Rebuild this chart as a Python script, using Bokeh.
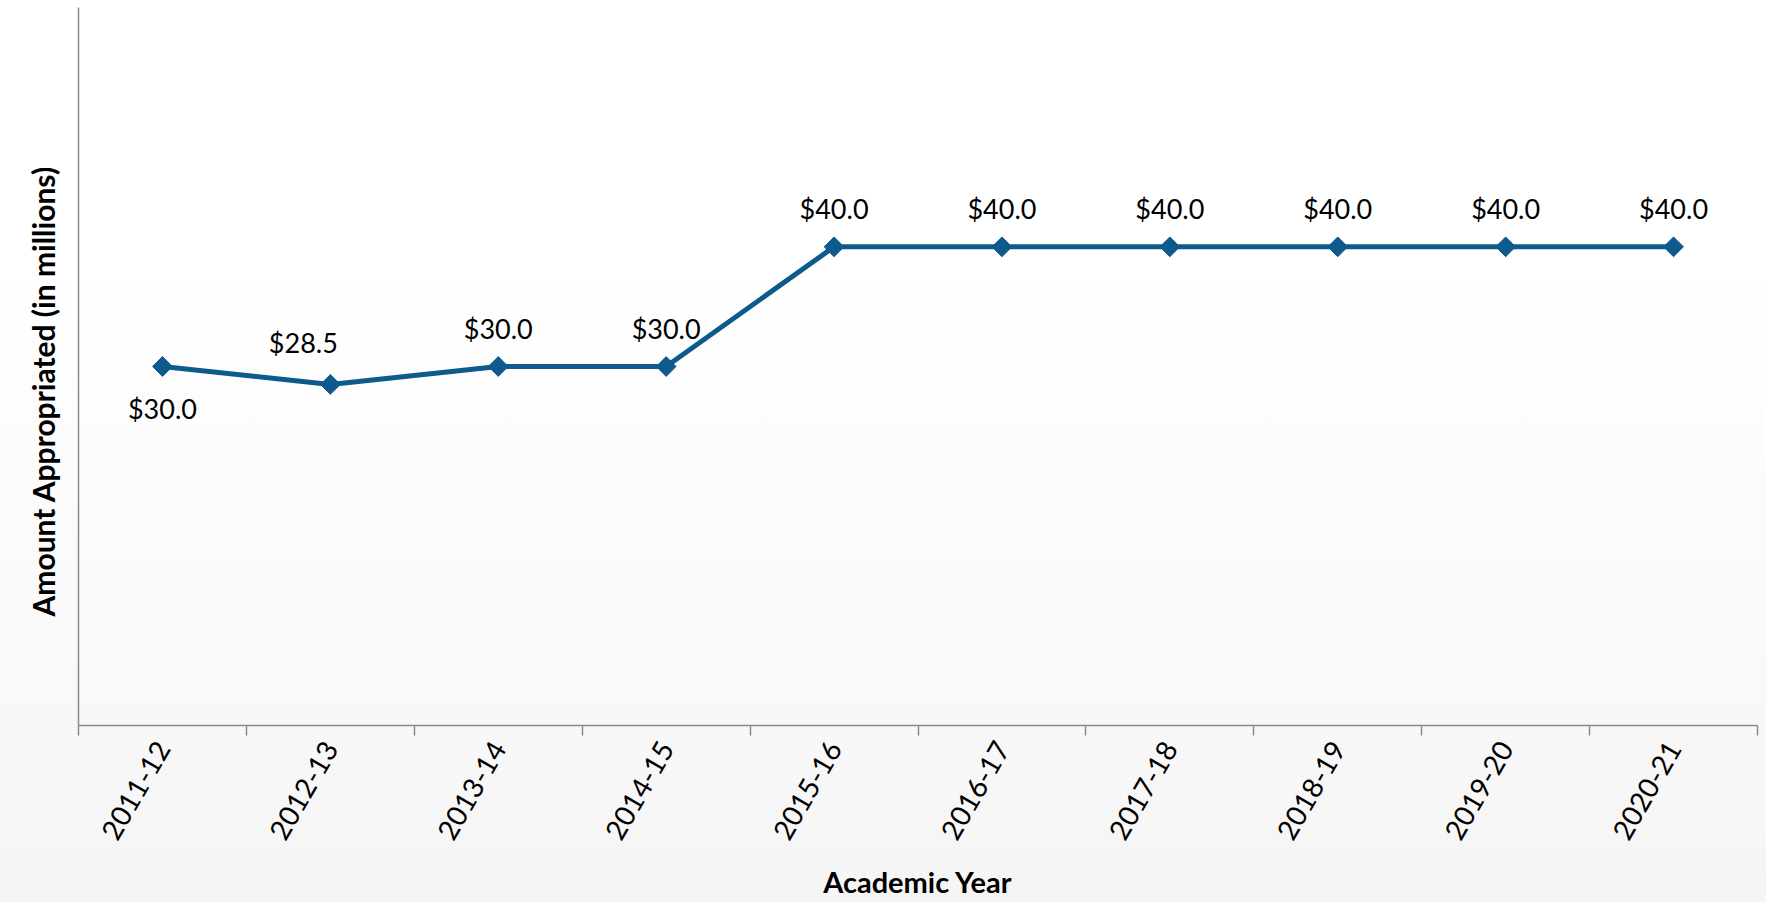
import math
import numpy as np
from bokeh.plotting import figure
from bokeh.models import (ColumnDataSource, LinearAxis, FixedTicker, Range1d, LabelSet, Title)
from bokeh.core.properties import value
from bokeh.embed import file_html
from bokeh.resources import INLINE

# ---- data ----
years = ["2011-12", "2012-13", "2013-14", "2014-15", "2015-16",
         "2016-17", "2017-18", "2018-19", "2019-20", "2020-21"]
amounts = [30.0, 28.5, 30.0, 30.0, 40.0, 40.0, 40.0, 40.0, 40.0, 40.0]
y_min, y_max = 0, 60

# ---- styles ----
FONT = "Lato"
LINE_COLOR = "#0F5A8C"
AXIS_COLOR = "#8A8A8A"
Y_TITLE = "Amount Appropriated (in millions)"
X_TITLE = "Academic Year"

n = len(years)
xc = (np.arange(n) + 0.5).tolist()          # category centres
bounds = np.arange(n + 1).tolist()          # category boundaries

labels = [f"${v:.1f}" for v in amounts]
# label placement: first point's label sits below, 2012-13 shifted left
lab_dx = [0] * n
lab_dy = [38] * n
lab_dy[0] = -42
lab_dx[1] = -27
lab_dy[1] = 42

src = ColumnDataSource(dict(x=xc, y=amounts, label=labels, dx=lab_dx, dy=lab_dy))

p = figure(width=1766, height=902, output_backend="svg", toolbar_location=None,
           x_range=Range1d(0, n), y_range=Range1d(y_min, y_max),
           x_axis_type=None, y_axis_type=None,
           min_border_left=78, min_border_right=9, min_border_top=7, min_border_bottom=177)

p.background_fill_alpha = 0
p.border_fill_alpha = 0
p.outline_line_color = None
p.styles = {"background": "linear-gradient(to bottom, #ffffff 0%, #ffffff 30%, #f5f5f5 100%)"}
p.xgrid.visible = False
p.ygrid.visible = False

# x axis with ticks at category boundaries and labels at centres
xaxis = LinearAxis(ticker=FixedTicker(ticks=xc, minor_ticks=bounds))
xaxis.major_label_overrides = {c: yname for c, yname in zip(xc, years)}
xaxis.major_tick_line_color = None
xaxis.major_tick_out = 0
xaxis.major_tick_in = 0
xaxis.minor_tick_line_color = AXIS_COLOR
xaxis.minor_tick_line_width = 1.5
xaxis.minor_tick_in = 0
xaxis.minor_tick_out = 10
xaxis.axis_line_color = AXIS_COLOR
xaxis.axis_line_width = 1.5
xaxis.major_label_orientation = math.pi / 3
xaxis.major_label_text_font = FONT
xaxis.major_label_text_font_size = "28px"
xaxis.major_label_text_color = "#000000"
xaxis.major_label_standoff = 8
xaxis.axis_label = X_TITLE
xaxis.axis_label_text_font = FONT
xaxis.axis_label_text_font_style = "bold"
xaxis.axis_label_text_font_size = "29px"
xaxis.axis_label_text_color = "#000000"
xaxis.axis_label_standoff = 14
p.add_layout(xaxis, "below")

# y axis: line only, no ticks/labels
yaxis = LinearAxis(ticker=FixedTicker(ticks=[]))
yaxis.major_tick_line_color = None
yaxis.minor_tick_line_color = None
yaxis.major_label_text_font_size = "0px"
yaxis.major_label_standoff = 0
yaxis.axis_line_color = AXIS_COLOR
yaxis.axis_line_width = 1.5
p.add_layout(yaxis, "left")

ytitle = Title(text=Y_TITLE, align="left", offset=109, standoff=34, vertical_align="middle",
               text_font=FONT, text_font_style="bold", text_font_size="30px",
               text_color="#000000")
p.add_layout(ytitle, "left")

p.line("x", "y", source=src, line_color=LINE_COLOR, line_width=5)
p.scatter("x", "y", source=src, marker="square", angle=math.pi / 4, size=14,
          fill_color=LINE_COLOR, line_color=LINE_COLOR)

lbl = LabelSet(x="x", y="y", text="label", source=src, x_offset="dx", y_offset="dy",
               text_align="center", text_baseline="middle",
               text_font=value(FONT), text_font_size=value("27px"),
               text_color=value("#000000"))
p.add_layout(lbl)

open("out.html", "w").write(file_html(p, INLINE))
